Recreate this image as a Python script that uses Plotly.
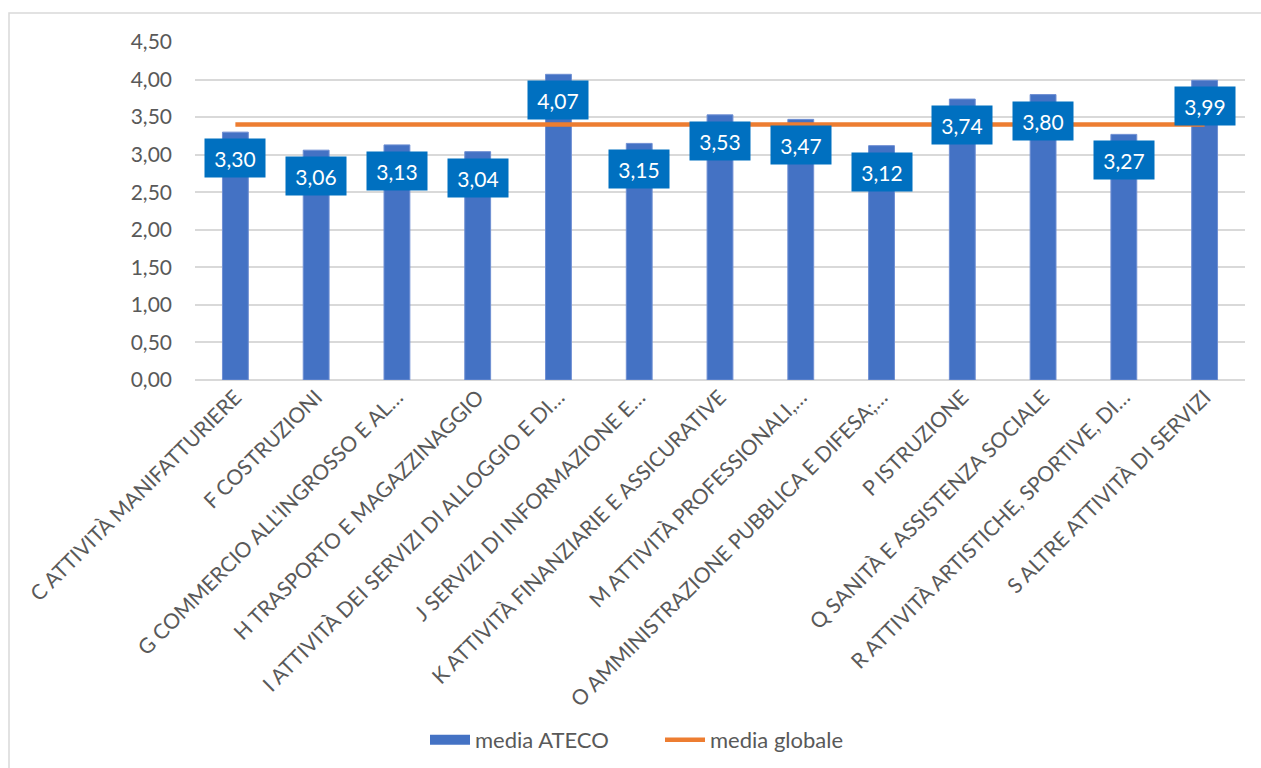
import plotly.graph_objects as go

# Settori ATECO (etichette abbreviate come nel foglio di lavoro)
settori = [
    "C ATTIVITÀ MANIFATTURIERE",
    "F COSTRUZIONI",
    "G COMMERCIO ALL'INGROSSO E AL…",
    "H TRASPORTO E MAGAZZINAGGIO",
    "I ATTIVITÀ DEI SERVIZI DI ALLOGGIO E DI…",
    "J SERVIZI DI INFORMAZIONE E…",
    "K ATTIVITÀ FINANZIARIE E ASSICURATIVE",
    "M ATTIVITÀ PROFESSIONALI,…",
    "O AMMINISTRAZIONE PUBBLICA E DIFESA;…",
    "P ISTRUZIONE",
    "Q SANITÀ E ASSISTENZA SOCIALE",
    "R ATTIVITÀ ARTISTICHE, SPORTIVE, DI…",
    "S ALTRE ATTIVITÀ DI SERVIZI",
]
media_ateco = [3.30, 3.06, 3.13, 3.04, 4.07, 3.15, 3.53, 3.47, 3.12, 3.74, 3.80, 3.27, 3.99]
media_globale = 3.40
y_ticks = [0, 0.5, 1.0, 1.5, 2.0, 2.5, 3.0, 3.5, 4.0, 4.5]

FONT = "Lato"
GRAY = "#595959"
BLUE = "#4472C4"
ORANGE = "#ED7D31"
W, H = 1261, 768
ML, MR, MT, MB = 195, 16, 42, 388
PW, PH = W - ML - MR, H - MT - MB


def px_x(x):
    return (x - ML) / PW


def px_y(y):
    return (H - MB - y) / PH


fig = go.Figure()

fig.add_trace(go.Bar(
    x=settori,
    y=media_ateco,
    name="media ATECO",
    legendgroup="ateco",
    showlegend=False,
    marker=dict(color=BLUE, line=dict(color="#6F8FD3", width=1)),
))

# Voce di legenda per le barre, resa come banda larga
fig.add_trace(go.Scatter(
    x=[None], y=[None],
    name="media ATECO",
    legendgroup="ateco",
    mode="lines",
    line=dict(color=BLUE, width=12),
))

fig.add_trace(go.Scatter(
    x=settori,
    y=[media_globale] * len(settori),
    name="media globale",
    mode="lines",
    line=dict(color=ORANGE, width=4.5),
))

# Etichette dei valori in riquadri blu
for s, v in zip(settori, media_ateco):
    fig.add_annotation(
        x=s, y=v, yshift=-26,
        text=f"{v:.2f}".replace(".", ","),
        showarrow=False,
        bgcolor="#0070C0",
        width=58, height=36,
        font=dict(family=FONT, size=21, color="white"),
        xanchor="center", yanchor="middle",
    )

# Cornice del grafico
fig.add_shape(
    type="rect", xref="paper", yref="paper",
    x0=px_x(9), x1=px_x(1290), y0=px_y(13), y1=px_y(800),
    line=dict(color="#D9D9D9", width=1.5),
    fillcolor="rgba(0,0,0,0)", layer="below",
)

fig.update_layout(
    width=W, height=H,
    margin=dict(l=ML, r=MR, t=MT, b=MB, autoexpand=False),
    paper_bgcolor="white",
    plot_bgcolor="white",
    separators=",.",
    bargap=0.68,
    font=dict(family=FONT, color=GRAY),
    showlegend=True,
    legend=dict(
        orientation="h",
        x=px_x(660), xanchor="center",
        y=px_y(740), yanchor="middle",
        font=dict(family=FONT, size=22, color=GRAY),
        itemwidth=40,
        entrywidth=180,
        traceorder="normal",
    ),
    xaxis=dict(
        type="category",
        tickangle=-45,
        tickfont=dict(family=FONT, size=21, color=GRAY),
        showgrid=False,
        ticks="",
        showline=False,
    ),
    yaxis=dict(
        range=[0, 4.5],
        tickvals=y_ticks,
        tickformat=".2f",
        tickfont=dict(family=FONT, size=21, color=GRAY),
        showgrid=True,
        gridcolor="#D9D9D9",
        gridwidth=1.5,
        zeroline=True,
        zerolinecolor="#D9D9D9",
        zerolinewidth=1.5,
        ticks="",
        ticklabelstandoff=22,
    ),
)

fig.write_html("out.html")
